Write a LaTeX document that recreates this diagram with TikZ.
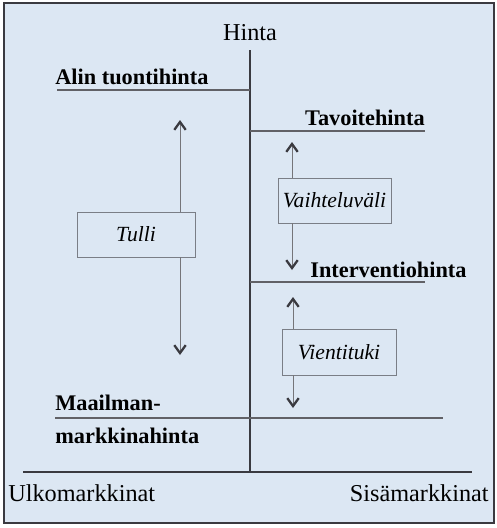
\documentclass[tikz,border=0pt]{standalone}
\usepackage{fontspec}
\setmainfont{Liberation Serif}
\usetikzlibrary{arrows.meta}
\definecolor{pohja}{HTML}{DCE7F3}
\definecolor{viiva}{HTML}{3A3A40}
\definecolor{laatikko}{HTML}{7A7E86}
\tikzset{
  taso/.style={draw=viiva!80, line width=0.6pt},
  akseli/.style={draw=viiva, line width=0.8pt},
  nuoli/.style={draw=viiva!70, line width=0.5pt, -{Straight Barb[length=4.5pt,width=6.5pt,line width=1.3pt,color=viiva]}},
  selite/.style={draw=laatikko, line width=0.5pt, fill=pohja, font=\fontsize{12.3}{14}\selectfont\itshape, inner sep=0pt},
  otsikko/.style={font=\fontsize{12.7}{15}\selectfont\bfseries, inner sep=0pt},
  teksti/.style={font=\fontsize{13.8}{16}\selectfont, inner sep=0pt}
}
\begin{document}
\begin{tikzpicture}[x=0.02cm, y=-0.02cm]
    \useasboundingbox (0,0) rectangle (497,528);
    % Tausta ja kehys
    \draw[viiva, line width=1pt, fill=pohja] (4,3) rectangle (494,523);

    % Akselit
    \node[teksti] (hinta) at (250,33) {Hinta};
    \coordinate (ylos) at (250,50);
    \coordinate (alas) at (250,472);
    \draw[akseli] (ylos) -- (alas);
    \coordinate (pohjaV) at (23,472);
    \coordinate (pohjaO) at (472,472);
    \draw[akseli] (pohjaV) -- (pohjaO);
    \node[teksti, anchor=west] (ulko) at (8,493) {Ulkomarkkinat};
    \node[teksti, anchor=east] (sisa) at (489,493) {Sisämarkkinat};

    % Hintatasot
    \node[otsikko, anchor=west] (alin) at (55,77) {Alin tuontihinta};
    \coordinate (alinV) at (57,90);
    \coordinate (alinO) at (250,90);
    \draw[taso] (alinV) -- (alinO);

    \node[otsikko, anchor=east] (tavoite) at (425,118) {Tavoitehinta};
    \coordinate (tavoiteV) at (250,131);
    \coordinate (tavoiteO) at (425,131);
    \draw[taso] (tavoiteV) -- (tavoiteO);

    \node[otsikko, anchor=west] (interv) at (310,270) {Interventiohinta};
    \coordinate (intervV) at (250,282);
    \coordinate (intervO) at (425,282);
    \draw[taso] (intervV) -- (intervO);

    \node[otsikko, anchor=west] (maailma) at (55,403) {Maailman-};
    \node[otsikko, anchor=west] (markkina) at (55,436) {markkinahinta};
    \coordinate (maailmaV) at (55,418);
    \coordinate (maailmaO) at (443,418);
    \draw[taso] (maailmaV) -- (maailmaO);

    % Tulli
    \node[selite, minimum width=118*0.02cm, minimum height=45*0.02cm] (tulli) at (136,234.5) {Tulli};
    \coordinate (tulliY) at (180,120);
    \coordinate (tulliA) at (180,355);
    \draw[nuoli] (tulli.north -| tulliY) -- (tulliY);
    \draw[nuoli] (tulli.south -| tulliA) -- (tulliA);

    % Vaihteluväli
    \node[selite, minimum width=113*0.02cm, minimum height=45*0.02cm] (vaihtelu) at (334.5,200.5) {Vaihteluväli};
    \coordinate (vaihteluY) at (292,142);
    \coordinate (vaihteluA) at (292,270);
    \draw[nuoli] (vaihtelu.north -| vaihteluY) -- (vaihteluY);
    \draw[nuoli] (vaihtelu.south -| vaihteluA) -- (vaihteluA);

    % Vientituki
    \node[selite, minimum width=114*0.02cm, minimum height=46*0.02cm] (vienti) at (339,352) {Vientituki};
    \coordinate (vientiY) at (293,297);
    \coordinate (vientiA) at (293,408);
    \draw[nuoli] (vienti.north -| vientiY) -- (vientiY);
    \draw[nuoli] (vienti.south -| vientiA) -- (vientiA);
\end{tikzpicture}
\end{document}
